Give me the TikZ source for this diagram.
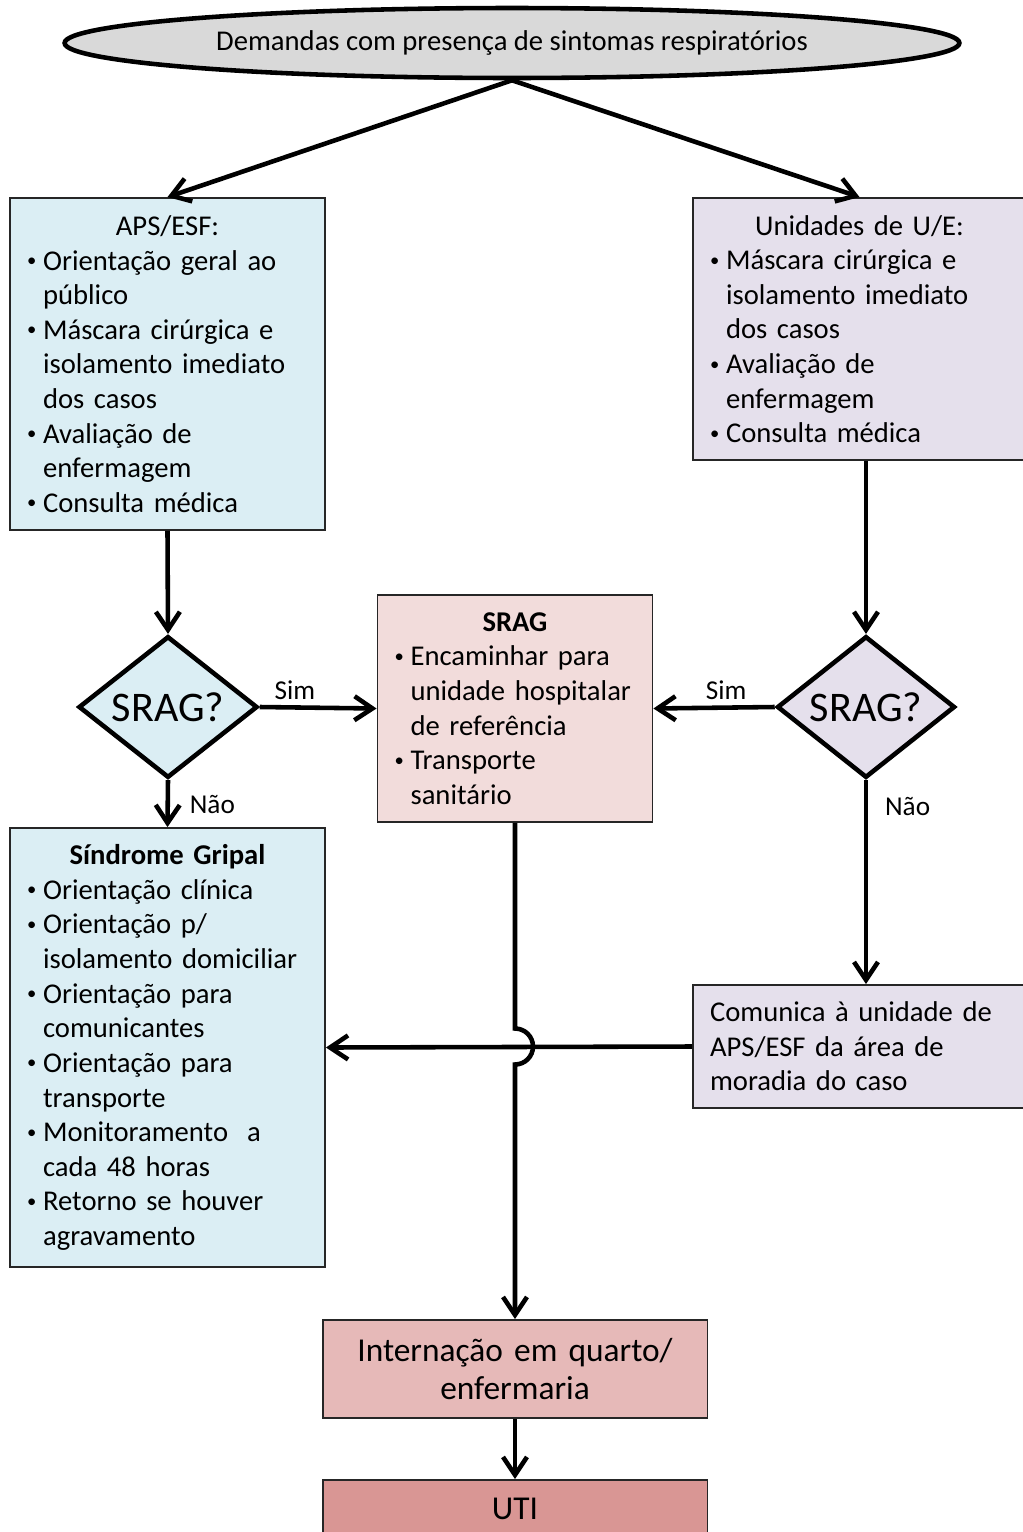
\documentclass[tikz,border=0pt]{standalone}
\usepackage{fontspec}
\setmainfont{Carlito}
\usetikzlibrary{arrows.meta,shapes.geometric,positioning}

\definecolor{cinza}{RGB}{217,217,217}
\definecolor{azul}{RGB}{219,238,244}
\definecolor{lilas}{RGB}{229,224,236}
\definecolor{rosa}{RGB}{242,220,219}
\definecolor{rosamed}{RGB}{230,185,184}
\definecolor{rosaesc}{RGB}{217,150,148}

\newcommand{\bul}{\makebox[0.56em][l]{\raisebox{0.25ex}{\scalebox{0.65}{\textbullet}}}}
\newcommand{\ind}{\hspace*{0.56em}}

\begin{document}
\begin{tikzpicture}[>={Straight Barb[length=0.36cm,width=0.48cm]},
    x=0.02cm, y=-0.02cm,
    font=\fontsize{16.3}{19.7}\selectfont,
    caixa/.style={rectangle, draw=black!85, line width=1.1pt, inner xsep=0.34cm,
      inner ysep=0pt, align=left},
    decisao/.style={diamond, draw, line width=2.6pt, inner sep=0pt,
      font=\fontsize{24}{28}\selectfont},
    seta/.style={->, line width=2.6pt},
    rotulo/.style={font=\fontsize{15.5}{18}\selectfont}]
\useasboundingbox (0,0) rectangle (1023,1532);

\node[ellipse, draw, line width=2.6pt, fill=cinza, minimum width=17.9cm,
  minimum height=1.4cm, inner sep=0pt] (dem) at (512,43)
  {Demandas com presença de sintomas respiratórios};

\node[caixa, fill=azul, text width=5.62cm, minimum height=6.64cm] (aps) at (167.5,364)
  {\makebox[\hsize]{APS/ESF:}\\
   \bul Orientação geral ao\\ \ind público\\
   \bul Máscara cirúrgica e\\ \ind isolamento imediato\\ \ind dos casos\\
   \bul Avaliação de\\ \ind enfermagem\\
   \bul Consulta médica};

\node[caixa, fill=lilas, text width=5.98cm, minimum height=5.24cm] (ue) at (859.5,329)
  {\makebox[\hsize]{Unidades de U/E:}\\
   \bul Máscara cirúrgica e\\ \ind isolamento imediato\\ \ind dos casos\\
   \bul Avaliação de\\ \ind enfermagem\\
   \bul Consulta médica};

\node[decisao, fill=azul, minimum width=3.58cm, minimum height=2.66cm] (d1) at (168,707) {SRAG?};
\node[decisao, fill=lilas, minimum width=3.56cm, minimum height=2.7cm] (d2) at (866,707) {SRAG?};

\node[caixa, fill=rosa, text width=4.82cm, minimum height=4.54cm] (srag) at (515,708.5)
  {\makebox[\hsize]{\bfseries SRAG}\\
   \bul Encaminhar para\\ \ind unidade hospitalar\\ \ind de referência\\
   \bul Transporte\\ \ind sanitário};

\node[caixa, fill=azul, text width=5.62cm, minimum height=8.78cm] (sg) at (167.5,1047.5)
  {\makebox[\hsize]{\bfseries Síndrome Gripal}\\
   \bul Orientação clínica\\
   \bul Orientação p/\\ \ind isolamento domiciliar\\
   \bul Orientação para\\ \ind comunicantes\\
   \bul Orientação para\\ \ind transporte\\
   \bul Monitoramento~ a\\ \ind cada 48 horas\\
   \bul Retorno se houver\\ \ind agravamento};

\node[caixa, fill=lilas, text width=5.98cm, minimum height=2.46cm] (com) at (859.5,1046.5)
  {Comunica à unidade de\\ APS/ESF da área de\\ moradia do caso};

\node[caixa, fill=rosamed, align=center, text width=7.02cm, minimum height=1.96cm,
  font=\fontsize{19}{21.5}\selectfont] (intern) at (515,1369)
  {Internação em quarto/\\ enfermaria};

\node[caixa, fill=rosaesc, align=center, text width=7.02cm, minimum height=1.16cm,
  font=\fontsize{19}{21.5}\selectfont] (uti) at (515,1509) {UTI};

% conectores
\draw[seta] (dem.south) -- (aps.north);
\draw[seta] (dem.south) -- (ue.north);
\draw[seta] (aps.south) -- (d1.north);
\draw[seta] (d2.north |- ue.south) -- (d2.north);
\draw[seta] (d1.east) -- node[rotulo, above, pos=0.3] {Sim} (srag.west);
\draw[seta] (d2.west) -- node[rotulo, above, pos=0.4] {Sim} (srag.east);
\draw[seta] (d1.south) -- node[rotulo, right=0.28cm, pos=0.53] {Não} (sg.north);
\draw[seta] (d2.south) -- node[rotulo, right=0.22cm, pos=0.13] {Não} (d2.south |- com.north);
\draw[seta] (com.west) -- (sg.east);

\coordinate (cruz) at (srag.south |- com.west);
\draw[seta] (srag.south) -- ([yshift=0.36cm]cruz)
  arc[start angle=90, end angle=-90, radius=0.36cm] -- (intern.north);
\draw[seta] (intern.south) -- (uti.north);
\end{tikzpicture}
\end{document}
